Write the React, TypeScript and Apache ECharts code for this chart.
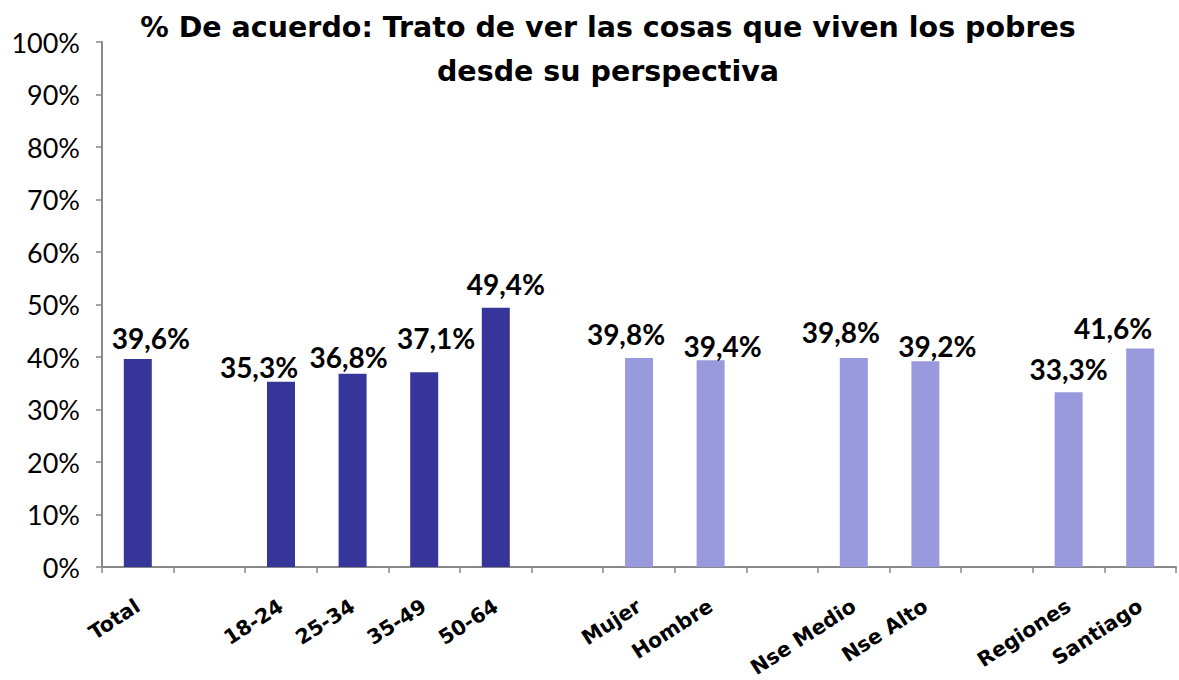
import React, { useEffect, useRef } from "react";
import * as echarts from "echarts";

const titleLines = [
  "% De acuerdo: Trato de ver las cosas que viven los pobres",
  "desde su perspectiva",
];
const categories = [
  "Total", "", "18-24", "25-34", "35-49", "50-64", "",
  "Mujer", "Hombre", "", "Nse Medio", "Nse Alto", "", "Regiones", "Santiago",
];
const values: (number | null)[] = [
  39.6, null, 35.3, 36.8, 37.1, 49.4, null,
  39.8, 39.4, null, 39.8, 39.2, null, 33.3, 41.6,
];
const groups = [
  "total", "", "edad", "edad", "edad", "edad", "",
  "sexo", "sexo", "", "nse", "nse", "", "zona", "zona",
];
const yTicks = [0, 10, 20, 30, 40, 50, 60, 70, 80, 90, 100];

// label placement tweaks (layout only)
const labelDx = [13, 0, -22, -4, 12, 10, 0, -13, 12, 0, -13, 12, 0, 0, -27];
const labelRise = [21, 0, 15, 17, 34, 24, 0, 24, 14, 0, 26, 15, 0, 23, 21];

const DARK = "#36369A";
const LIGHT = "#9999DD";
const AXIS = "#898989";

export default function App() {
  const ref = useRef<HTMLDivElement>(null);
  useEffect(() => {
    if (!ref.current) return;
    const chart = echarts.init(ref.current, undefined, { renderer: "svg" });
    const data = values.map((v, i) => {
      if (v === null) return { value: null };
      return {
        value: v,
        itemStyle: { color: groups[i] === "total" || groups[i] === "edad" ? DARK : LIGHT },
        label: { offset: [labelDx[i], -(labelRise[i] - 14)] },
      };
    });
    chart.setOption({
      animation: false,
      backgroundColor: "#ffffff",
      graphic: [
        {
          type: "text",
          x: 608,
          y: 5,
          style: {
            text: titleLines.join("\n"),
            textAlign: "center",
            textVerticalAlign: "top",
            fontFamily: "DejaVu Sans",
            fontWeight: "bold",
            fontSize: 28.5,
            lineHeight: 44,
            fill: "#000",
          },
        },
      ],
      grid: { left: 102, right: 3, top: 42, bottom: 113, containLabel: false, outerBoundsMode: "none" },
      xAxis: {
        type: "category",
        data: categories,
        boundaryGap: true,
        axisLine: { show: true, lineStyle: { color: AXIS, width: 2 } },
        axisTick: { show: true, interval: 0, alignWithLabel: false, length: 6, lineStyle: { color: AXIS, width: 1.5 } },
        axisLabel: {
          interval: 0,
          rotate: 33,
          margin: 37,
          fontFamily: "DejaVu Sans",
          fontWeight: "bold",
          fontSize: 20.5,
          color: "#000",
        },
        splitLine: { show: false },
      },
      yAxis: {
        type: "value",
        min: yTicks[0],
        max: yTicks[yTicks.length - 1],
        interval: 10,
        axisLine: { show: true, lineStyle: { color: AXIS, width: 2 } },
        axisTick: { show: true, length: 6, lineStyle: { color: AXIS, width: 1.5 } },
        axisLabel: {
          formatter: "{value}%",
          margin: 22,
          fontFamily: "Lato",
          fontSize: 27,
          color: "#000",
        },
        splitLine: { show: false },
      },
      series: [
        {
          type: "bar",
          data,
          barWidth: 28,
          label: {
            show: true,
            position: "top",
            distance: 0,
            fontFamily: "Lato",
            fontWeight: "bold",
            fontSize: 28,
            color: "#000",
            formatter: (p: any) => (p.value == null ? "" : p.value.toFixed(1).replace(".", ",") + "%"),
          },
        },
      ],
    });
    return () => chart.dispose();
  }, []);
  return (
    <div
      ref={ref}
      style={{ position: "absolute", left: 0, top: 0, width: 1179, height: 680 }}
    />
  );
}
